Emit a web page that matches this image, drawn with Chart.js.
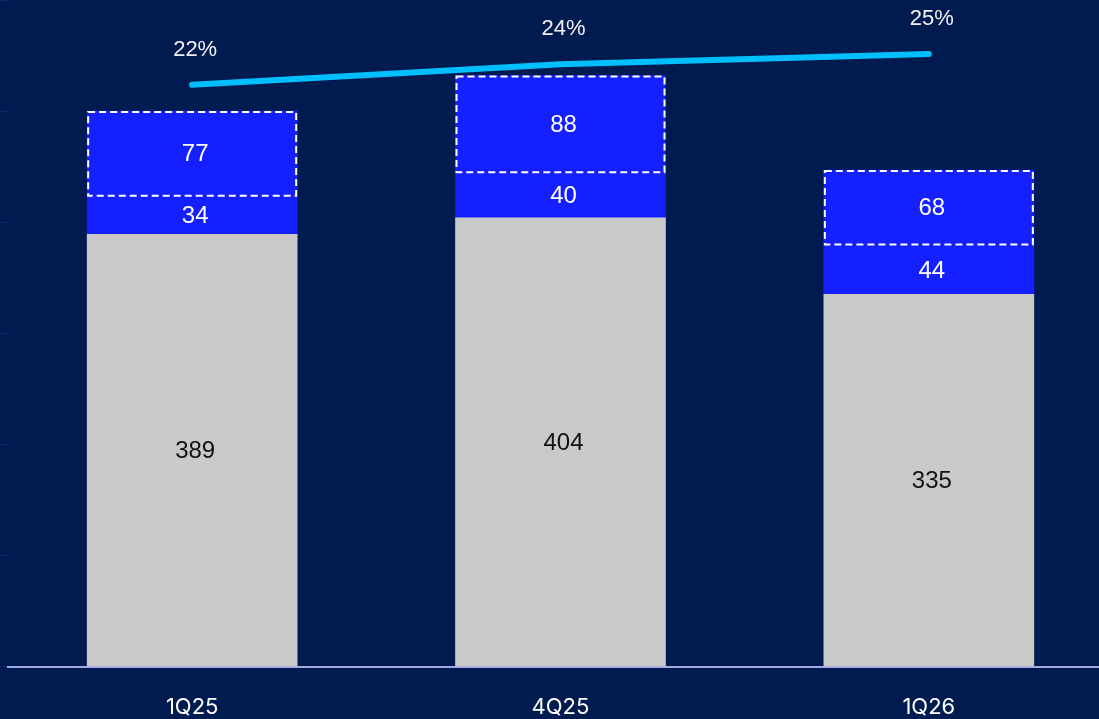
<!DOCTYPE html>
<html>
<head>
<meta charset="utf-8">
<script src="https://cdn.jsdelivr.net/npm/chart.js@4"></script>
<style>
  html, body { margin: 0; padding: 0; background: #001b50; overflow: hidden; }
  #wrap { width: 1113px; height: 741px; }
</style>
</head>
<body>
<div id="wrap"><canvas id="chart" width="1113" height="741"></canvas></div>
<script>
// Quarters
const quarters = ['1Q25', '4Q25', '1Q26'];

// Stacked bar segments (bottom to top)
const baseValues = [389, 404, 335];
const midValues = [34, 40, 44];
const topValues = [77, 88, 68];

// Percentage line
const pctValues = [22, 24, 25];

const GRAY = '#c9c9c9';
const BLUE = '#1420ff';
const LINE = '#00bfff';

// draws value labels + the dashed box on the top segment
const labelPlugin = {
    id: 'labels',
    afterDatasetsDraw(chart) {
        const ctx = chart.ctx;
        ctx.save();
        ctx.textAlign = 'center';
        ctx.textBaseline = 'middle';

        // dashed outline on top segment
        const topMeta = chart.getDatasetMeta(3);
        ctx.strokeStyle = '#ffffff';
        ctx.lineWidth = 2;
        ctx.setLineDash([7, 4]);
        topMeta.data.forEach(function(bar) {
            const left = bar.x - bar.width / 2;
            ctx.strokeRect(left + 1, bar.y + 1, bar.width - 2, bar.base - bar.y - 2);
        });
        ctx.setLineDash([]);

        // segment labels
        ctx.font = '24px "Liberation Sans", Arial, sans-serif';
        [1, 2, 3].forEach(function(i) {
            const meta = chart.getDatasetMeta(i);
            const ds = chart.data.datasets[i];
            ctx.fillStyle = i === 1 ? '#111111' : '#ffffff';
            meta.data.forEach(function(bar, j) {
                ctx.fillText(ds.data[j], bar.x + 3, (bar.y + bar.base) / 2 + 1);
            });
        });

        // line labels
        const lineMeta = chart.getDatasetMeta(0);
        ctx.font = '22px "Liberation Sans", Arial, sans-serif';
        ctx.fillStyle = '#f2f2f2';
        lineMeta.data.forEach(function(pt, j) {
            ctx.fillText(pctValues[j] + '%', pt.x + 3, pt.y - 35);
        });
        ctx.restore();
    }
};

const chartData = {
    labels: quarters,
    datasets: [
        {
            type: 'line',
            label: 'Margin',
            data: pctValues,
            yAxisID: 'y1',
            borderColor: LINE,
            borderWidth: 6,
            borderCapStyle: 'round',
            borderJoinStyle: 'round',
            pointRadius: 0,
            tension: 0,
            order: 0
        },
        {
            type: 'bar',
            label: 'Base',
            data: baseValues,
            backgroundColor: GRAY,
            stack: 's',
            barThickness: 210,
            order: 1
        },
        {
            type: 'bar',
            label: 'Mid',
            data: midValues,
            backgroundColor: BLUE,
            stack: 's',
            barThickness: 210,
            order: 1
        },
        {
            type: 'bar',
            label: 'Top',
            data: topValues,
            backgroundColor: BLUE,
            stack: 's',
            barThickness: 210,
            order: 1
        }
    ]
};

new Chart(document.getElementById('chart'), {
    data: chartData,
    plugins: [labelPlugin],
    options: {
        responsive: false,
        animation: false,
        layout: { padding: { left: 0, right: 0, top: 0, bottom: 0 } },
        plugins: {
            legend: { display: false },
            tooltip: { enabled: false }
        },
        scales: {
            x: {
                stacked: true,
                grid: { display: false },
                border: { display: true, color: '#a6a8e6', width: 2 },
                ticks: {
                    color: '#ffffff',
                    padding: 20,
                    font: { family: 'Inter, sans-serif', size: 22 }
                }
            },
            y: {
                stacked: true,
                min: 0,
                max: 600,
                border: { display: false },
                grid: {
                    drawOnChartArea: false,
                    drawTicks: true,
                    tickLength: 8,
                    color: '#15296a'
                },
                ticks: { display: false, stepSize: 100 }
            },
            y1: {
                display: false,
                min: -35,
                max: 30.3
            }
        }
    }
});
</script>
</body>
</html>
